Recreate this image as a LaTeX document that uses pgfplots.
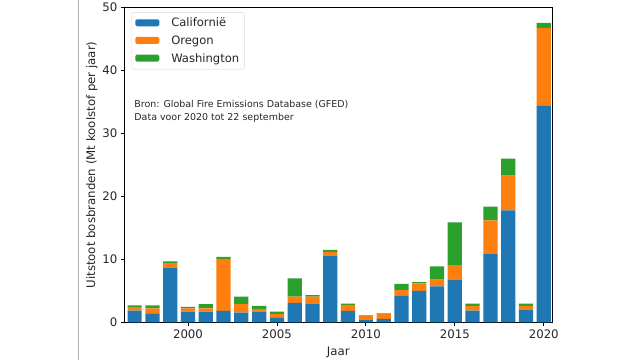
\documentclass[border=0pt]{standalone}
\usepackage{pgfplots}
\pgfplotsset{compat=1.18}
\usepackage{fontspec}
\setmainfont{DejaVu Sans}
\definecolor{cblue}{HTML}{1F77B4}
\definecolor{corange}{HTML}{FF7F0E}
\definecolor{cgreen}{HTML}{2CA02C}
\definecolor{ctext}{HTML}{262626}
\begin{document}
\begin{tikzpicture}
\useasboundingbox (0,0) rectangle (640bp,360bp);
\draw[black!30, line width=0.6bp] (78bp,0) -- (78bp,360bp);
\begin{axis}[
  at={(124.3bp,37.7bp)}, anchor=south west,
  scale only axis, width=428bp, height=314.6bp,
  xmin=1996.42, xmax=2020.48, ymin=0, ymax=50,
  ybar stacked, bar width=0.8,
  xtick={2000,2005,2010,2015,2020},
  ytick={0,10,20,30,40,50},
  xticklabel style={/pgf/number format/1000 sep={}},
  /pgf/number format/assume math mode=true,
  tick align=outside, tick pos=left,
  major tick length=3.5bp,
  axis line style={black, line width=0.8bp},
  every tick/.style={black, line width=0.8bp},
  tick label style={font=\fontsize{11.8}{14}\selectfont, text=ctext},
  label style={font=\fontsize{11.8}{14}\selectfont, text=ctext},
  xlabel={Jaar},
  ylabel={Uitstoot bosbranden (Mt koolstof per jaar)},
  xlabel style={at={(axis description cs:0.5,-0.095)}, anchor=center},
  ylabel style={at={(axis description cs:-0.0755,0.5)}, anchor=center},
  legend style={at={(axis description cs:0.017,0.985)}, anchor=north west,
    draw=black!15, rounded corners=1.5bp, fill=white,
    font=\fontsize{11.6}{14}\selectfont, text=ctext,
    row sep=3.5bp, inner sep=3.5bp},
  legend cell align=left,
  legend image code/.code={\fill[#1] (0bp,-3bp) rectangle (24bp,4bp); \path (34bp,0);},
]
\addplot+[fill=cblue, draw=none] coordinates {
(1997,1.85)(1998,1.4)(1999,8.6)(2000,1.7)(2001,1.7)(2002,1.8)(2003,1.55)(2004,1.6)
(2005,0.8)(2006,3.1)(2007,2.9)(2008,10.5)(2009,1.8)(2010,0.35)(2011,0.55)(2012,4.2)
(2013,5.0)(2014,5.7)(2015,6.7)(2016,1.85)(2017,10.85)(2018,17.8)(2019,1.95)(2020,34.4)};
\addplot+[fill=corange, draw=none] coordinates {
(1997,0.55)(1998,0.8)(1999,0.8)(2000,0.5)(2001,0.5)(2002,8.3)(2003,1.35)(2004,0.5)
(2005,0.5)(2006,1.0)(2007,1.2)(2008,0.7)(2009,0.95)(2010,0.7)(2011,0.75)(2012,0.9)
(2013,1.2)(2014,1.1)(2015,2.4)(2016,0.75)(2017,5.35)(2018,5.5)(2019,0.65)(2020,12.4)};
\addplot+[fill=cgreen, draw=none] coordinates {
(1997,0.3)(1998,0.5)(1999,0.3)(2000,0.25)(2001,0.7)(2002,0.3)(2003,1.2)(2004,0.5)
(2005,0.4)(2006,2.9)(2007,0.2)(2008,0.3)(2009,0.2)(2010,0.1)(2011,0.1)(2012,1.0)
(2013,0.2)(2014,2.1)(2015,6.8)(2016,0.35)(2017,2.2)(2018,2.7)(2019,0.35)(2020,0.8)};
\legend{Californië, Oregon, Washington}
\node[anchor=base west, align=left, inner sep=0pt, font=\fontsize{9.5}{13}\selectfont, text=ctext]
  at (axis cs:1996.98,32.07) {Bron: Global Fire Emissions Database (GFED)\\Data voor 2020 tot 22 september};
\end{axis}
\end{tikzpicture}
\end{document}
